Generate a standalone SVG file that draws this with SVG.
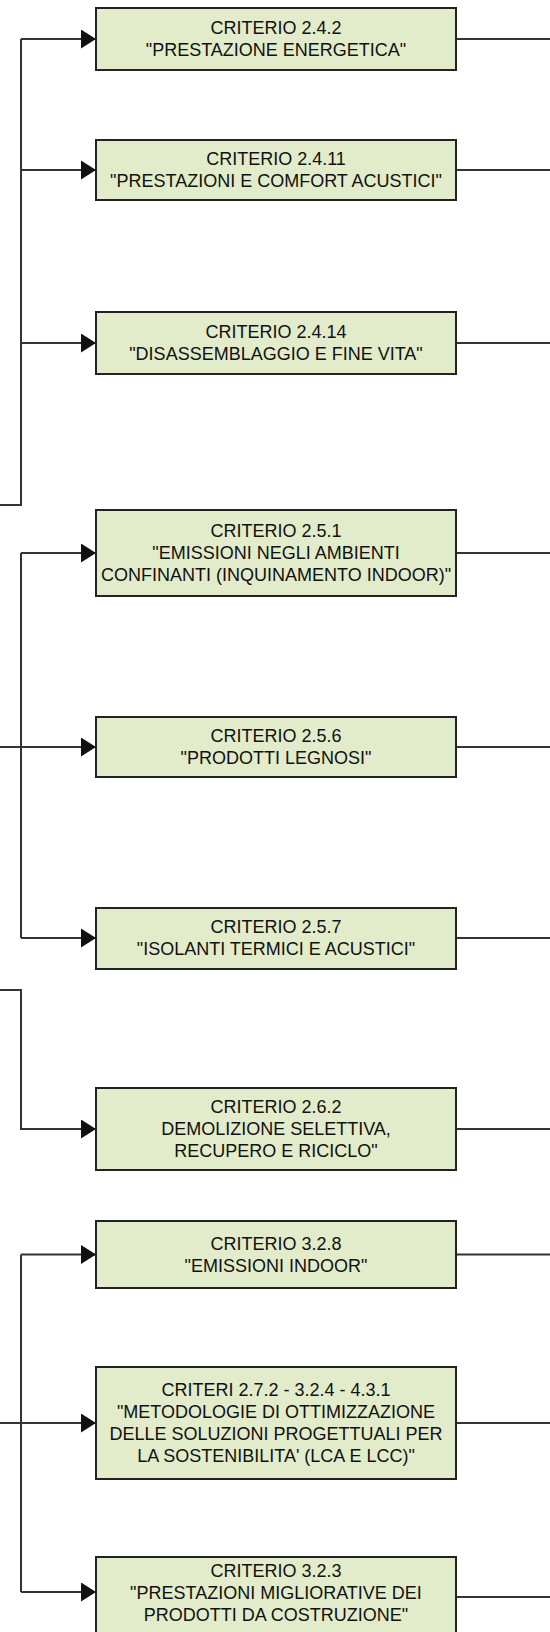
<svg xmlns="http://www.w3.org/2000/svg" width="550" height="1632" viewBox="0 0 550 1632">
<defs>
<marker id="arr" markerUnits="userSpaceOnUse" markerWidth="15" markerHeight="19" refX="15" refY="9.5" orient="auto">
<path d="M0,0 L15,9.5 L0,19 Z" fill="#111"/>
</marker>
<style>
.box{fill:#e2ecca;stroke:#222;stroke-width:2}
.t{font-family:"Liberation Sans",Arial,sans-serif;font-size:18px;fill:#111;text-anchor:middle}
.c{fill:none;stroke:#333;stroke-width:2}
.a{fill:none;stroke:#333;stroke-width:2;marker-end:url(#arr)}
</style>
</defs>
<rect width="550" height="1632" fill="#fff"/>
<g id="connectors">
<path class="c" d="M0,505 H21 V39"/>
<path class="a" d="M21,39 H96"/>
<path class="a" d="M21,170 H96"/>
<path class="a" d="M21,343 H96"/>
<path class="c" d="M21,553 V938"/>
<path class="a" d="M21,553 H96"/>
<path class="a" d="M0,747 H96"/>
<path class="a" d="M21,938 H96"/>
<path class="a" d="M0,990 H21 V1129 H96"/>
<path class="c" d="M21,1254.5 V1592"/>
<path class="a" d="M21,1254.5 H96"/>
<path class="a" d="M0,1423 H96"/>
<path class="a" d="M21,1592 H96"/>
<path class="c" d="M456,39 H550 M456,170 H550 M456,343 H550 M456,553 H550 M456,747 H550 M456,938 H550 M456,1129 H550 M456,1254.5 H550 M456,1423 H550 M456,1597 H550"/>
</g>
<g id="n1"><rect class="box" x="96" y="8" width="360" height="62"/>
<text class="t" x="276" y="34">CRITERIO 2.4.2</text><text class="t" x="276" y="56">"PRESTAZIONE ENERGETICA"</text></g>
<g id="n2"><rect class="box" x="96" y="140" width="360" height="60"/>
<text class="t" x="276" y="165">CRITERIO 2.4.11</text><text class="t" x="276" y="187">"PRESTAZIONI E COMFORT ACUSTICI"</text></g>
<g id="n3"><rect class="box" x="96" y="312" width="360" height="62"/>
<text class="t" x="276" y="338">CRITERIO 2.4.14</text><text class="t" x="276" y="360">"DISASSEMBLAGGIO E FINE VITA"</text></g>
<g id="n4"><rect class="box" x="96" y="510" width="360" height="86"/>
<text class="t" x="276" y="537">CRITERIO 2.5.1</text><text class="t" x="276" y="559">"EMISSIONI NEGLI AMBIENTI</text><text class="t" x="276" y="581">CONFINANTI (INQUINAMENTO INDOOR)"</text></g>
<g id="n5"><rect class="box" x="96" y="717" width="360" height="60"/>
<text class="t" x="276" y="742">CRITERIO 2.5.6</text><text class="t" x="276" y="764">"PRODOTTI LEGNOSI"</text></g>
<g id="n6"><rect class="box" x="96" y="908" width="360" height="61"/>
<text class="t" x="276" y="933">CRITERIO 2.5.7</text><text class="t" x="276" y="955">"ISOLANTI TERMICI E ACUSTICI"</text></g>
<g id="n7"><rect class="box" x="96" y="1088" width="360" height="82"/>
<text class="t" x="276" y="1113">CRITERIO 2.6.2</text><text class="t" x="276" y="1135">DEMOLIZIONE SELETTIVA,</text><text class="t" x="276" y="1157">RECUPERO E RICICLO"</text></g>
<g id="n8"><rect class="box" x="96" y="1221" width="360" height="67"/>
<text class="t" x="276" y="1250">CRITERIO 3.2.8</text><text class="t" x="276" y="1272">"EMISSIONI INDOOR"</text></g>
<g id="n9"><rect class="box" x="96" y="1367" width="360" height="112"/>
<text class="t" x="276" y="1396">CRITERI 2.7.2 - 3.2.4 - 4.3.1</text><text class="t" x="276" y="1418">"METODOLOGIE DI OTTIMIZZAZIONE</text><text class="t" x="276" y="1440">DELLE SOLUZIONI PROGETTUALI PER</text><text class="t" x="276" y="1462">LA SOSTENIBILITA' (LCA E LCC)"</text></g>
<g id="n10"><rect class="box" x="96" y="1557" width="360" height="82"/>
<text class="t" x="276" y="1577">CRITERIO 3.2.3</text><text class="t" x="276" y="1599">"PRESTAZIONI MIGLIORATIVE DEI</text><text class="t" x="276" y="1621">PRODOTTI DA COSTRUZIONE"</text></g>
</svg>
